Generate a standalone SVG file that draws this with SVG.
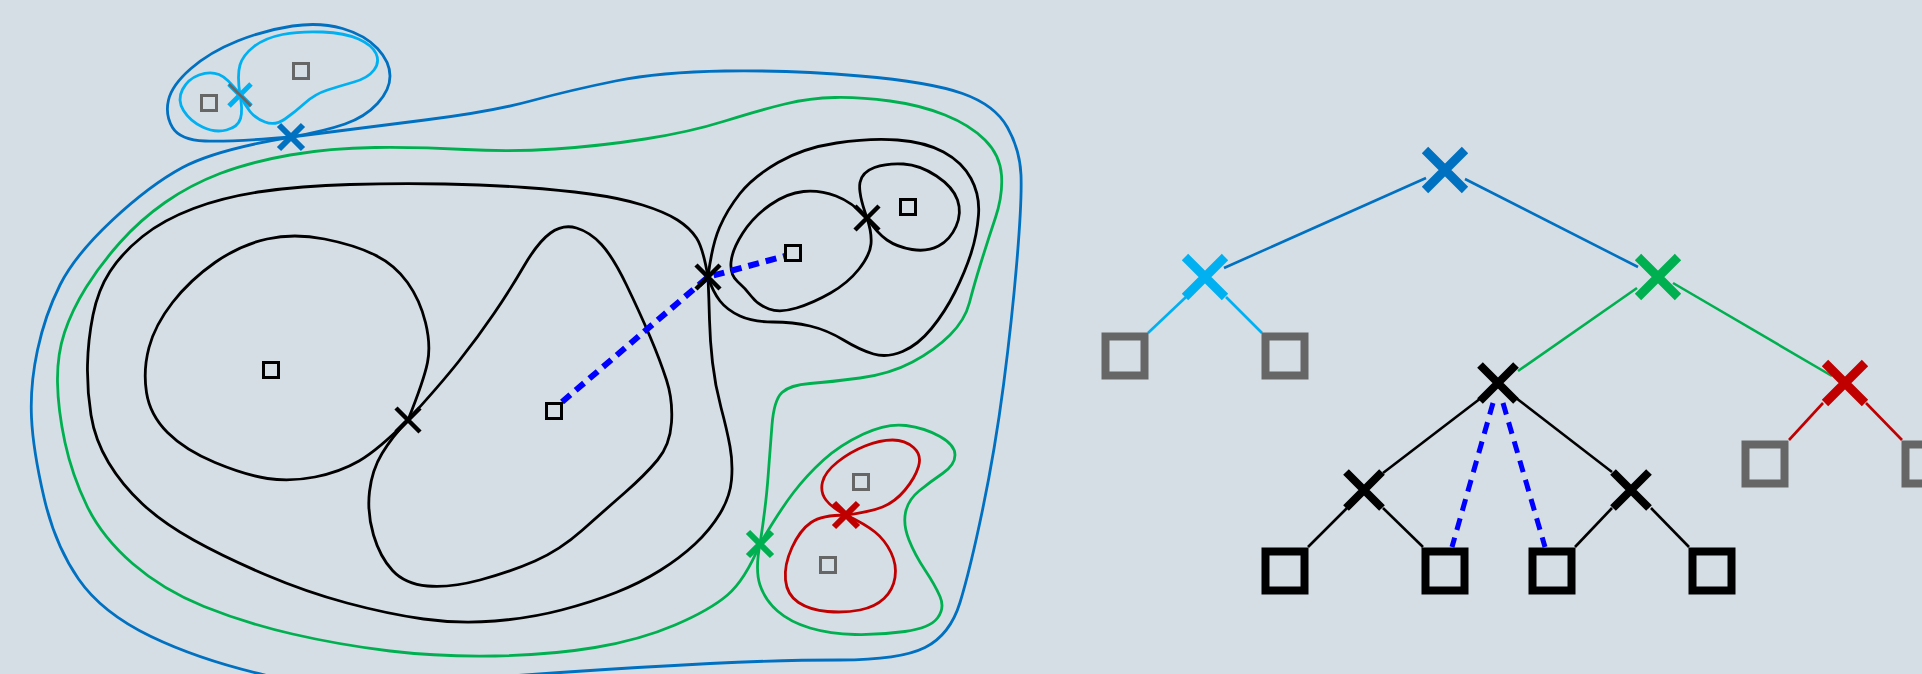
<svg xmlns="http://www.w3.org/2000/svg" xmlns:xlink="http://www.w3.org/1999/xlink" width="1922" height="674" viewBox="0 0 1922 674">
<style>
.c{fill:none;stroke-width:2.8;stroke-linejoin:round;stroke-linecap:round}
.blue{stroke:#0070c0}.cyan{stroke:#00b0f0}.green{stroke:#00b050}.red{stroke:#c00000}.black{stroke:#000}.gray{stroke:#666}
.sq{fill:none;stroke-width:3}
.tsq{fill:none;stroke-width:8}
.xs{fill:none;stroke-width:6}
.xb{fill:none;stroke-width:4.5}
.xt{fill:none;stroke-width:9}
.xtb{fill:none;stroke-width:8}
.tl{fill:none;stroke-width:2.6}
.dot{fill:none;stroke:#0000ff;stroke-width:6;stroke-dasharray:11 7}
.tdot{fill:none;stroke:#0000ff;stroke-width:5;stroke-dasharray:12 8}
</style>
<defs>
<path id="xS" d="M-12,-12L12,12M12,-12L-12,12"/>
<path id="xT" d="M-20,-20L20,20M20,-20L-20,20"/>
<path id="xTB" d="M-18,-18L18,18M18,-18L-18,18"/>
<rect id="sqS" x="-7.5" y="-7.5" width="15" height="15"/>
<rect id="sqT" x="-19.5" y="-19.5" width="39" height="39"/>
</defs>
<rect width="1922" height="674" fill="#d5dee5"/>

<g id="contours">
<path class="c blue" d="M 291,137 Q 360,128 425,120 Q 490,112 530.5,101 Q 571,90 615.5,81 Q 660,72 725,71 Q 790,70 860,76 Q 930,82 962.5,93.5 Q 995,105 1007.5,127.5 Q 1020,150 1021,175 Q 1022,200 1017,260 Q 1012,320 1003.5,385 Q 995,450 982.5,510 Q 970,570 960,602.5 Q 950,635 925,647.5 Q 900,660 840,660 Q 780,660 710,663.5 Q 640,667 560,672.5 Q 480,678 405,684 Q 330,690 265,675 Q 200,660 151,636.5 Q 102,613 78.5,579 Q 55,545 44,497.5 Q 33,450 31.5,417.5 Q 30,385 37.5,350 Q 45,315 60,285 Q 75,255 112.5,220 Q 150,185 182.5,167.5 Q 215,150 291,137"/>
<path class="c blue" d="M 291,137 Q 230,142 205,141 Q 180,140 172.5,127.5 Q 165,115 168.5,100 Q 172,85 191,68.5 Q 210,52 237.5,41 Q 265,30 292.5,26 Q 320,22 342.5,28.5 Q 365,35 377.5,48.5 Q 390,62 390,76 Q 390,90 377.5,103.5 Q 365,117 345,124 Q 325,131 291,137"/>
<path class="c cyan" d="M 240,95 Q 228,78 219,74.5 Q 210,71 199,75 Q 188,79 182.5,89.5 Q 177,100 183.5,110.5 Q 190,121 202.5,127 Q 215,133 226.5,130 Q 238,127 240.5,118.5 Q 243,110 240,95"/>
<path class="c cyan" d="M 240,95 Q 237,75 240,65 Q 243,55 254,46.5 Q 265,38 282.5,34.5 Q 300,31 322.5,32 Q 345,33 358.5,39 Q 372,45 376,53.5 Q 380,62 374,70 Q 368,78 354,82 Q 340,86 327.5,90 Q 315,94 305,103 Q 295,112 285,119 Q 275,126 265,122 Q 255,118 250,111.5 Q 245,105 240,95"/>
<path class="c green" d="M 760,544 Q 745,580 727.5,595 Q 710,610 675,625 Q 640,640 595,647.5 Q 550,655 495,656 Q 440,657 390,651 Q 340,645 292.5,634 Q 245,623 204,606.5 Q 163,590 132.5,563.5 Q 102,537 87,506 Q 72,475 65,442.5 Q 58,410 57.5,382.5 Q 57,355 64.5,332.5 Q 72,310 86,287.5 Q 100,265 120,242.5 Q 140,220 165,202.5 Q 190,185 220,173.5 Q 250,162 290,155 Q 330,148 375,147.5 Q 420,147 465,149.5 Q 510,152 555,149 Q 600,146 645,139 Q 690,132 725,121 Q 760,110 785,104 Q 810,98 835,97.5 Q 860,97 890,101 Q 920,105 945,115 Q 970,125 985,140 Q 1000,155 1001.5,175 Q 1003,195 995.5,217.5 Q 988,240 981,262.5 Q 974,285 969.5,302.5 Q 965,320 950,335 Q 935,350 912.5,362 Q 890,374 860,378 Q 830,382 810,383.5 Q 790,385 782,392.5 Q 774,400 772,425 Q 770,450 768,477.5 Q 766,505 760,544"/>
<path class="c green" d="M 760,544 Q 780,510 793.5,492.5 Q 807,475 823.5,460 Q 840,445 863.5,434 Q 887,423 906,425.5 Q 925,428 940,436.5 Q 955,445 955,455 Q 955,465 942.5,473.5 Q 930,482 919,491 Q 908,500 905.5,512.5 Q 903,525 909,540 Q 915,555 925,570 Q 935,585 940,596.5 Q 945,608 937.5,618 Q 930,628 905,631.5 Q 880,635 855,634.5 Q 830,634 810,628 Q 790,622 777.5,611 Q 765,600 760,585 Q 755,570 760,544"/>
<path class="c red" d="M 846,515 Q 870,512 882.5,507 Q 895,502 905,490 Q 915,478 918.5,466.5 Q 922,455 913.5,447.5 Q 905,440 892.5,440 Q 880,440 865,446 Q 850,452 837.5,462 Q 825,472 822.5,482 Q 820,492 826,500 Q 832,508 846,515"/>
<path class="c red" d="M 846,515 Q 822,515 811,522.5 Q 800,530 792,547.5 Q 784,565 785.5,580 Q 787,595 798.5,602.5 Q 810,610 827.5,611.5 Q 845,613 860,610 Q 875,607 884,598.5 Q 893,590 895,577.5 Q 897,565 891,552.5 Q 885,540 875,532 Q 865,524 846,515"/>
<path class="c black" d="M 708,277 Q 703,248 696.5,238 Q 690,228 677.5,220 Q 665,212 642.5,205 Q 620,198 590,194 Q 560,190 525,187.5 Q 490,185 445,184 Q 400,183 350,184.5 Q 300,186 262,191.5 Q 224,197 193.5,208.5 Q 163,220 142.5,236.5 Q 122,253 110,271.5 Q 98,290 93,315 Q 88,340 87.5,365 Q 87,390 91,415 Q 95,440 108.5,462.5 Q 122,485 142.5,504 Q 163,523 193.5,540 Q 224,557 265,574.5 Q 306,592 347,603 Q 388,614 423.5,619 Q 459,624 495,621 Q 531,618 561.5,610 Q 592,602 616,592.5 Q 640,583 660,570.5 Q 680,558 695,544 Q 710,530 720,513.5 Q 730,497 731.5,480 Q 733,463 730,446.5 Q 727,430 721,407.5 Q 715,385 712.5,362.5 Q 710,340 709.5,320 Q 709,300 708,277"/>
<path class="c black" d="M 708,277 Q 712,245 719.5,227.5 Q 727,210 740,193.5 Q 753,177 778,162.5 Q 803,148 836.5,143 Q 870,138 897.5,140 Q 925,142 943.5,152 Q 962,162 971,178.5 Q 980,195 978.5,215 Q 977,235 971,253.5 Q 965,272 955,292 Q 945,312 931.5,328.5 Q 918,345 902.5,351.5 Q 887,358 873.5,354 Q 860,350 843.5,340 Q 827,330 810,326 Q 793,322 773,322 Q 753,322 740,316 Q 727,310 720,301 Q 713,292 708,277"/>
<path class="c black" d="M 867,218 Q 852,202 836,196 Q 820,190 803.5,191.5 Q 787,193 770,205 Q 753,217 742.5,233.5 Q 732,250 731,262.5 Q 730,275 737.5,281.5 Q 745,288 751.5,296.5 Q 758,305 769,309 Q 780,313 796.5,308 Q 813,303 830.5,293 Q 848,283 859,269 Q 870,255 871,244 Q 872,233 867,218"/>
<path class="c black" d="M 867,218 Q 858,193 860,182.5 Q 862,172 874.5,167.5 Q 887,163 903.5,164 Q 920,165 936.5,176 Q 953,187 957.5,200 Q 962,213 956,226.5 Q 950,240 938.5,246 Q 927,252 912,249.5 Q 897,247 887,240 Q 877,233 867,218"/>
<path class="c black" d="M 408,420 Q 424,380 427.5,362.5 Q 431,345 425.5,322.5 Q 420,300 407.5,282.5 Q 395,265 375,255 Q 355,245 324.5,239 Q 294,233 267,239 Q 240,245 215,262.5 Q 190,280 172.5,302.5 Q 155,325 149,347.5 Q 143,370 146.5,392.5 Q 150,415 167.5,432.5 Q 185,450 215,462.5 Q 245,475 267.5,478.5 Q 290,482 315,477 Q 340,472 359,461 Q 378,450 408,420"/>
<path class="c black" d="M 408,420 Q 440,385 459,361 Q 478,337 494,313.5 Q 510,290 524,266 Q 538,242 550.5,233 Q 563,224 576.5,228 Q 590,232 601.5,244.5 Q 613,257 626.5,285 Q 640,313 650,336.5 Q 660,360 666.5,380 Q 673,400 671.5,422.5 Q 670,445 657.5,460 Q 645,475 625,492.5 Q 605,510 582.5,530 Q 560,550 535,561 Q 510,572 480,580 Q 450,588 427.5,586 Q 405,584 392.5,570.5 Q 380,557 373.5,535 Q 367,513 369.5,491.5 Q 372,470 382,453.5 Q 392,437 408,420"/>
</g>

<g id="graph-paths">
<polyline class="dot" points="562,402 708,277 785,256"/>
</g>

<g id="graph-minima">
<use href="#sqS" class="sq gray" x="209" y="103"/>
<use href="#sqS" class="sq gray" x="301" y="71"/>
<use href="#sqS" class="sq gray" x="861" y="482"/>
<use href="#sqS" class="sq gray" x="828" y="565"/>
<use href="#sqS" class="sq black" x="271" y="370"/>
<use href="#sqS" class="sq black" x="554" y="411"/>
<use href="#sqS" class="sq black" x="793" y="253"/>
<use href="#sqS" class="sq black" x="908" y="207"/>
</g>

<g id="graph-saddles">
<use href="#xS" class="xs blue" x="291" y="137"/>
<g id="saddle-cyan" transform="translate(240,95)">
<path d="M-11,11L11,-11" class="cyan" stroke-width="5"/>
<path d="M-11,-11L11,11" class="cyan" stroke-width="5"/>
<path d="M-11,-11L11,11" class="gray" stroke-width="2.5"/>
</g>
<use href="#xS" class="xb black" x="708" y="277"/>
<use href="#xS" class="xb black" x="867" y="218"/>
<use href="#xS" class="xb black" x="408" y="420"/>
<use href="#xS" class="xs green" x="760" y="544"/>
<use href="#xS" class="xs red" x="846" y="515"/>
</g>

<g id="connectors">
<line class="tl blue" x1="1426" y1="178" x2="1224" y2="268"/>
<line class="tl blue" x1="1465" y1="179" x2="1638" y2="267"/>
<line class="tl cyan" x1="1186" y1="297" x2="1148" y2="333"/>
<line class="tl cyan" x1="1226" y1="297" x2="1262" y2="333"/>
<line class="tl green" x1="1637" y1="288" x2="1518" y2="371"/>
<line class="tl green" x1="1673" y1="283" x2="1832" y2="376"/>
<line class="tl black" x1="1481" y1="398" x2="1383" y2="473"/>
<line class="tl black" x1="1516" y1="398" x2="1612" y2="472"/>
<line class="tl black" x1="1347" y1="508" x2="1308" y2="547"/>
<line class="tl black" x1="1383" y1="508" x2="1423" y2="547"/>
<line class="tl black" x1="1612" y1="508" x2="1575" y2="547"/>
<line class="tl black" x1="1651" y1="508" x2="1689" y2="547"/>
<line class="tl red" x1="1823" y1="403" x2="1789" y2="440"/>
<line class="tl red" x1="1866" y1="403" x2="1902" y2="440"/>
<line class="tdot" x1="1493" y1="403" x2="1452" y2="547"/>
<line class="tdot" x1="1503" y1="403" x2="1545" y2="547"/>
</g>

<g id="t-root"><use href="#xT" class="xt blue" x="1445" y="170"/></g>
<g id="t-cyan"><use href="#xT" class="xt cyan" x="1205" y="277"/></g>
<g id="t-green"><use href="#xT" class="xt green" x="1658" y="277"/></g>
<g id="t-black"><use href="#xTB" class="xtb black" x="1498" y="383"/></g>
<g id="t-red"><use href="#xT" class="xt red" x="1845" y="383"/></g>
<g id="t-black-left"><use href="#xTB" class="xtb black" x="1364" y="490"/></g>
<g id="t-black-right"><use href="#xTB" class="xtb black" x="1631" y="490"/></g>
<g id="t-leaf-g1"><use href="#sqT" class="tsq gray" x="1125" y="356"/></g>
<g id="t-leaf-g2"><use href="#sqT" class="tsq gray" x="1285" y="356"/></g>
<g id="t-leaf-r1"><use href="#sqT" class="tsq gray" x="1765" y="464"/></g>
<g id="t-leaf-r2"><use href="#sqT" class="tsq gray" x="1925" y="464"/></g>
<g id="t-leaf-b1"><use href="#sqT" class="tsq black" x="1285" y="571"/></g>
<g id="t-leaf-b2"><use href="#sqT" class="tsq black" x="1445" y="571"/></g>
<g id="t-leaf-b3"><use href="#sqT" class="tsq black" x="1552" y="571"/></g>
<g id="t-leaf-b4"><use href="#sqT" class="tsq black" x="1712" y="571"/></g>
</svg>
